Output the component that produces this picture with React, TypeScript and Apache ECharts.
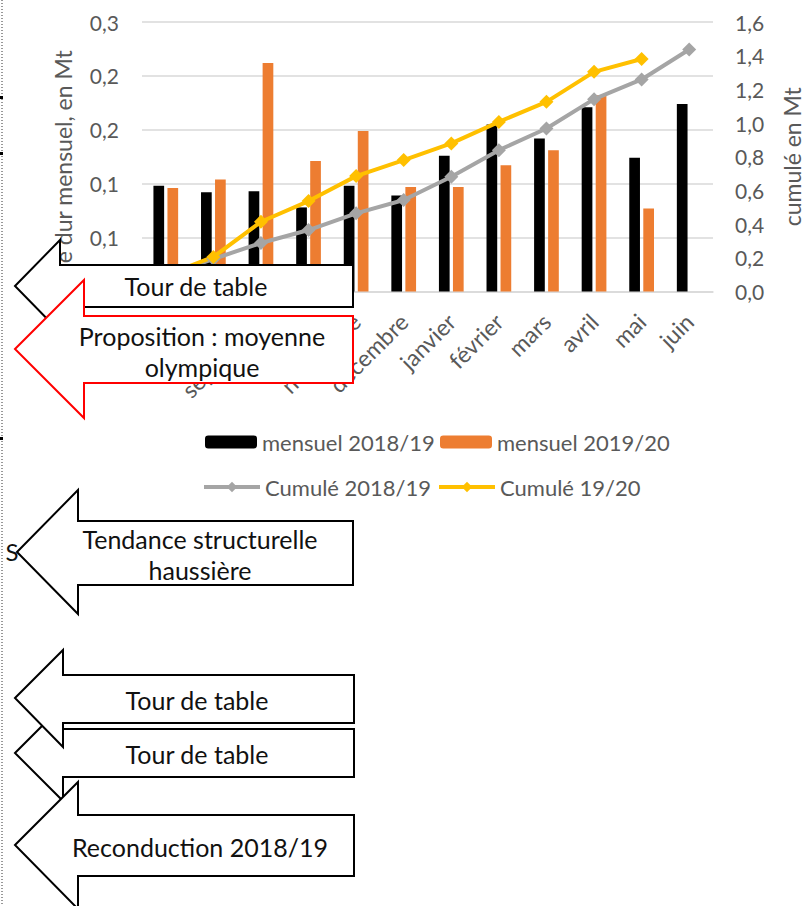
import React, { useEffect, useRef } from "react";
import * as echarts from "echarts";

const FONT = "Lato, 'Open Sans', sans-serif";
const GRID_COLOR = "#D9D9D9";
const TEXT_COLOR = "#595959";

const months = [
  "juillet", "août", "septembre", "octobre", "novembre", "décembre",
  "janvier", "février", "mars", "avril", "mai", "juin",
];
const mensuel1819 = [0.098, 0.092, 0.093, 0.078, 0.098, 0.089, 0.126, 0.155, 0.142, 0.171, 0.124, 0.174];
const mensuel1920 = [0.096, 0.104, 0.212, 0.121, 0.149, 0.097, 0.097, 0.117, 0.131, 0.182, 0.077, null];
const cumul1819 = [0.098, 0.193, 0.288, 0.365, 0.464, 0.543, 0.681, 0.839, 0.968, 1.142, 1.259, 1.437];
const cumul1920 = [0.096, 0.205, 0.414, 0.537, 0.685, 0.78, 0.879, 1.007, 1.126, 1.304, 1.38, null];

const leftTicks = { min: 0, max: 0.25, interval: 0.05 };
const rightTicks = { min: 0, max: 1.6, interval: 0.2 };

const seriesNames = ["mensuel 2018/19", "mensuel 2019/20", "Cumulé 2018/19", "Cumulé 19/20"];
const seriesColors = ["#000000", "#ED7D31", "#A5A5A5", "#FFC000"];

const arrowLabels = [
  "Tour de table",
  "Proposition : moyenne\nolympique",
  "Tendance structurelle\nhaussière",
  "Tour de table",
  "Tour de table",
  "Reconduction 2018/19",
];

const fmt1 = (v: number) => (Math.round(v * 10 + 1e-6) / 10).toFixed(1).replace(".", ",");

function arrowShape(
  tipX: number, tipY: number, neckX: number, headTop: number, headBot: number,
  boxTop: number, boxBot: number, right: number, stroke: string, z: number
) {
  return {
    type: "polygon",
    z,
    silent: true,
    shape: {
      points: [
        [tipX, tipY], [neckX, headTop], [neckX, boxTop], [right, boxTop],
        [right, boxBot], [neckX, boxBot], [neckX, headBot],
      ],
    },
    style: { fill: "#ffffff", stroke, lineWidth: 2, lineJoin: "miter" },
  };
}

function arrowText(text: string, x: number, y: number, z: number) {
  return {
    type: "text",
    z,
    silent: true,
    x,
    y,
    style: {
      text,
      fill: "#111111",
      fontSize: 25,
      fontFamily: FONT,
      lineHeight: 31,
      align: "center",
      verticalAlign: "middle",
      textAlign: "center",
      textVerticalAlign: "middle",
    },
  };
}

export default function App() {
  const ref = useRef<HTMLDivElement>(null);

  useEffect(() => {
    document.body.style.margin = "0";
    if (!ref.current) return;
    const chart = echarts.init(ref.current, null, { renderer: "svg" });

    const legendBase = {
      orient: "horizontal",
      padding: 0,
      itemWidth: 52,
      itemHeight: 13,
      textStyle: { fontSize: 22, color: TEXT_COLOR, fontFamily: FONT, lineHeight: 22 },
    };

    const option: any = {
      animation: false,
      backgroundColor: "#ffffff",
      textStyle: { fontFamily: FONT },
      grid: { left: 142, right: 89, top: 22, bottom: 906 - 291.5, containLabel: false },
      legend: [
        { ...legendBase, data: [seriesNames[0]], left: 205, top: 431 },
        { ...legendBase, data: [seriesNames[1]], left: 440, top: 431 },
        { ...legendBase, data: [seriesNames[2]], left: 202, top: 476, itemWidth: 56, lineStyle: { width: 4 } },
        { ...legendBase, data: [seriesNames[3]], left: 437, top: 476, itemWidth: 56, lineStyle: { width: 4 } },
      ],
      xAxis: {
        type: "category",
        data: months,
        axisLine: { lineStyle: { color: GRID_COLOR, width: 1.5 } },
        axisTick: { show: false },
        axisLabel: {
          interval: 0,
          rotate: 45,
          margin: 26,
          padding: [26, 0, 0, 0],
          fontSize: 23,
          color: TEXT_COLOR,
          fontFamily: FONT,
          hideOverlap: false,
        },
      },
      yAxis: [
        {
          type: "value",
          position: "left",
          ...leftTicks,
          name: "e dur mensuel, en Mt",
          nameLocation: "middle",
          nameGap: 68,
          nameTextStyle: { fontSize: 23, color: TEXT_COLOR, fontFamily: FONT },
          axisLine: { show: false },
          axisTick: { show: false },
          axisLabel: { formatter: fmt1, fontSize: 21, color: TEXT_COLOR, margin: 23, fontFamily: FONT },
          splitLine: { lineStyle: { color: GRID_COLOR, width: 1.5 } },
        },
        {
          type: "value",
          position: "right",
          ...rightTicks,
          name: "cumulé en Mt",
          nameLocation: "middle",
          nameGap: 67,
          nameTextStyle: { fontSize: 23, color: TEXT_COLOR, fontFamily: FONT },
          axisLine: { show: false },
          axisTick: { show: false },
          axisLabel: { formatter: fmt1, fontSize: 21, color: TEXT_COLOR, margin: 22, fontFamily: FONT },
          splitLine: { show: false },
        },
      ],
      series: [
        {
          name: seriesNames[0],
          type: "bar",
          yAxisIndex: 0,
          data: mensuel1819,
          barWidth: 10.7,
          barGap: "31%",
          itemStyle: { color: seriesColors[0] },
        },
        {
          name: seriesNames[1],
          type: "bar",
          yAxisIndex: 0,
          data: mensuel1920,
          barWidth: 10.7,
          barGap: "31%",
          itemStyle: { color: seriesColors[1] },
        },
        {
          name: seriesNames[2],
          type: "line",
          yAxisIndex: 1,
          data: cumul1819,
          symbol: "diamond",
          symbolSize: 14,
          lineStyle: { color: seriesColors[2], width: 4 },
          itemStyle: { color: seriesColors[2] },
        },
        {
          name: seriesNames[3],
          type: "line",
          yAxisIndex: 1,
          data: cumul1920,
          symbol: "diamond",
          symbolSize: 14,
          lineStyle: { color: seriesColors[3], width: 4 },
          itemStyle: { color: seriesColors[3] },
        },
      ],
      graphic: [
        {
          type: "line",
          z: 90,
          silent: true,
          shape: { x1: 2, y1: 0, x2: 2, y2: 906 },
          style: { stroke: "#333333", lineWidth: 1, lineDash: [1, 2] },
        },
        { type: "rect", z: 90, silent: true, shape: { x: 0, y: 96, width: 3, height: 3 }, style: { fill: "#000" } },
        { type: "rect", z: 90, silent: true, shape: { x: 0, y: 152, width: 3, height: 3 }, style: { fill: "#000" } },
        { type: "rect", z: 90, silent: true, shape: { x: 0, y: 437, width: 3, height: 3 }, style: { fill: "#000" } },
        {
          type: "text",
          z: 95,
          silent: true,
          x: 12,
          y: 551,
          style: {
            text: "S", fill: "#111111", fontSize: 24, fontFamily: FONT,
            align: "center", verticalAlign: "middle", textAlign: "center", textVerticalAlign: "middle",
          },
        },
        // arrow 1 (under arrow 2)
        arrowShape(15, 286, 60, 240, 332, 265, 307, 353, "#000000", 100),
        arrowText(arrowLabels[0], 196, 286, 100),
        // arrow 2 red
        arrowShape(15, 349, 84, 280, 418, 316, 383, 353, "#FF0000", 101),
        arrowText(arrowLabels[1], 202, 351, 101),
        // arrow 3
        arrowShape(17, 552, 78, 490, 614, 521, 585, 353, "#000000", 100),
        arrowText(arrowLabels[2], 200, 554, 100),
        // arrow 5 (under 4 and 6)
        arrowShape(15, 753, 63, 705, 801, 729, 777, 354, "#000000", 100),
        arrowText(arrowLabels[4], 197, 754, 100),
        // arrow 4
        arrowShape(15, 698, 63, 650, 747, 675, 723, 354, "#000000", 101),
        arrowText(arrowLabels[3], 197, 700, 101),
        // arrow 6
        arrowShape(15, 845, 78, 782, 909, 815, 876, 354, "#000000", 102),
        arrowText(arrowLabels[5], 200, 847, 102),
      ],
    };

    chart.setOption(option);
    return () => chart.dispose();
  }, []);

  return <div ref={ref} style={{ width: 811, height: 906, background: "#ffffff" }} />;
}
